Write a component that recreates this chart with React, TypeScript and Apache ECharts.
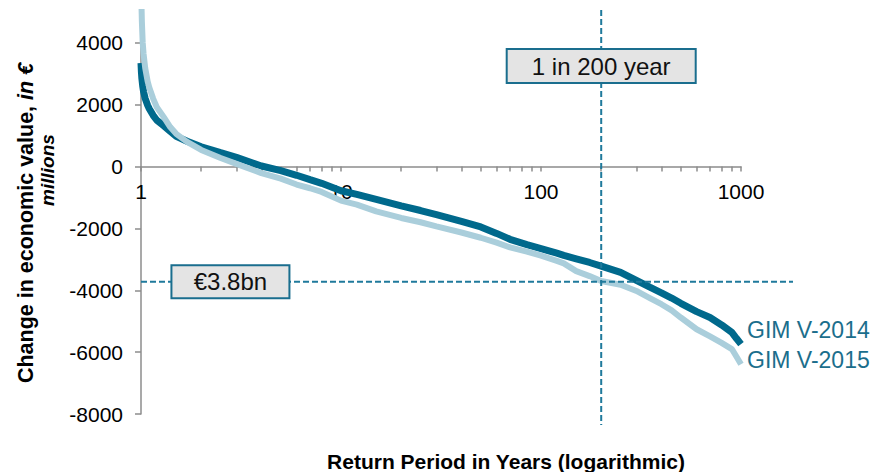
import React, { useEffect, useRef } from 'react';
import * as echarts from 'echarts';

// Return period in years (x, logarithmic)
const returnPeriods = [
  1, 1.005, 1.01, 1.02, 1.03, 1.05, 1.08, 1.1, 1.15, 1.2,
  1.3, 1.4, 1.5, 1.7, 2, 2.5, 3, 4, 5, 6,
  7, 8, 10, 12, 15, 20, 25, 30, 40, 50,
  60, 70, 85, 100, 120, 130, 150, 175, 200, 250,
  300, 350, 400, 450, 500, 600, 700, 800, 900, 950,
  1000,
];

// Change in economic value, € millions
const gimV2014 = [
  3350, 3050, 2850, 2600, 2420, 2200, 1980, 1870, 1660, 1500,
  1320, 1140, 980, 820, 640, 450, 300, 20, -130, -280,
  -420, -540, -780, -900, -1060, -1270, -1420, -1550, -1770, -1950,
  -2160, -2350, -2520, -2650, -2800, -2870, -2980, -3100, -3220, -3420,
  -3680, -3900, -4080, -4250, -4420, -4690, -4880, -5120, -5360, -5560,
  -5740,
];

const gimV2015 = [
  6500, 5300, 4700, 4000, 3650, 3180, 2750, 2560, 2200, 1920,
  1600, 1280, 1060, 800, 540, 280, 90, -210, -390, -580,
  -700, -820, -1100, -1230, -1450, -1660, -1800, -1930, -2130, -2300,
  -2460, -2610, -2750, -2880, -3050, -3130, -3380, -3540, -3700, -3820,
  -4020, -4250, -4450, -4650, -4880, -5260, -5490, -5700, -5900, -6150,
  -6390,
];

const seriesNames = ['GIM V-2014', 'GIM V-2015'];
const yTicks = [-8000, -6000, -4000, -2000, 0, 2000, 4000];
const yMin = -8000;
const yMax = 5000;
const xMajorTicks = [1, 10, 100, 1000];
const xMinorTicks = [
  2, 3, 4, 5, 6, 7, 8, 9,
  20, 30, 40, 50, 60, 70, 80, 90,
  200, 300, 400, 500, 600, 700, 800, 900,
];

const returnPeriodMark = 200;
const returnPeriodText = '1 in 200 year';
const returnPeriodTextLevel = 3250;
const lossMark = -3720;
const lossText = '€3.8bn';
const lossTextPeriod = 2.8;

const xTitle = 'Return Period in Years (logarithmic)';
const yTitleMain = 'Change in economic value, ';
const yTitleItalic = 'in €';
const yTitleLine2 = 'millions';

const FONT = '"Liberation Sans", Arial, Helvetica, sans-serif';
const DARK = '#00698c';
const LIGHT = '#aacedb';
const ACCENT = '#1f7a9c';
const LABEL_TEAL = '#1b6e8c';
const AXIS_GREY = '#8c8c8c';

const toLog = (t: number) => Math.log10(t);

export default function App() {
  const ref = useRef<HTMLDivElement>(null);

  useEffect(() => {
    if (!ref.current) return;
    const chart = echarts.init(ref.current, null, { renderer: 'svg' });

    const tickValues = [...xMajorTicks, ...xMinorTicks].map(toLog);
    const d2014 = returnPeriods.map((t, i) => [toLog(t), gimV2014[i]]);
    const d2015 = returnPeriods.map((t, i) => [toLog(t), gimV2015[i]]);

    const axisLineStyle = { color: AXIS_GREY, width: 1.5 };

    chart.setOption({
      animation: false,
      grid: { left: 141, right: 138, top: 12, bottom: 58, containLabel: false },
      xAxis: {
        type: 'value',
        min: toLog(xMajorTicks[0]),
        max: toLog(xMajorTicks[xMajorTicks.length - 1]),
        interval: 1,
        offset: 0,
        axisLine: { show: true, onZero: false, lineStyle: axisLineStyle },
        axisTick: { show: true, length: 5, customValues: tickValues, lineStyle: axisLineStyle },
        axisLabel: {
          margin: 14,
          fontSize: 21,
          color: '#000',
          fontFamily: FONT,
          formatter: (v: number) => String(Math.round(Math.pow(10, v))),
        },
        splitLine: { show: false },
      },
      yAxis: {
        type: 'value',
        min: yMin,
        max: yMax,
        axisLine: { show: true, lineStyle: axisLineStyle },
        axisTick: { show: true, length: 6, customValues: yTicks, lineStyle: axisLineStyle },
        axisLabel: {
          customValues: yTicks,
          margin: 18,
          fontSize: 21,
          color: '#000',
          fontFamily: FONT,
          formatter: (v: number) => String(v),
        },
        splitLine: { show: false },
      },
      series: [
        {
          name: seriesNames[0],
          type: 'line',
          data: d2014,
          showSymbol: false,
          symbol: 'none',
          lineStyle: { color: DARK, width: 7 },
          z: 2,
        },
        {
          name: seriesNames[1],
          type: 'line',
          data: d2015,
          showSymbol: false,
          symbol: 'none',
          lineStyle: { color: LIGHT, width: 6 },
          z: 3,
        },
      ],
    });

    const px = (x: number, y: number) =>
      chart.convertToPixel({ seriesIndex: 0 }, [x, y]) as number[];

    // Move the x axis (line, ticks and labels) up to the y = 0 level
    const [, zeroY] = px(0, 0);
    const [, bottomY] = px(0, yMin);
    chart.setOption({ xAxis: { offset: zeroY - bottomY } });

    const [vx, vTop] = px(toLog(returnPeriodMark), yMax);
    const [, vBottom] = px(toLog(returnPeriodMark), yMin);
    const [hLeft, hy] = px(toLog(xMajorTicks[0]), lossMark);
    const [hRight] = px(toLog(xMajorTicks[xMajorTicks.length - 1]), lossMark);
    const [, box1Y] = px(toLog(returnPeriodMark), returnPeriodTextLevel);
    const [box2X] = px(toLog(lossTextPeriod), lossMark);
    const last = returnPeriods.length - 1;
    const end2014 = px(toLog(returnPeriods[last]), gimV2014[last]);
    const end2015 = px(toLog(returnPeriods[last]), gimV2015[last]);

    const dash = { stroke: ACCENT, lineWidth: 2, lineDash: [6, 3] };
    const boxStyle = { fill: '#e4e4e4', stroke: '#1a6e8e', lineWidth: 2 };
    const boxText = {
      font: `24px ${FONT}`,
      fill: '#111',
      align: 'center',
      verticalAlign: 'middle',
    };

    chart.setOption({
      graphic: [
        {
          type: 'line',
          z: 10,
          shape: { x1: vx, y1: vTop - 2, x2: vx, y2: vBottom + 11 },
          style: dash,
        },
        {
          type: 'line',
          z: 10,
          shape: { x1: hLeft, y1: hy, x2: hRight + 52, y2: hy },
          style: dash,
        },
        {
          type: 'rect',
          z: 20,
          shape: { x: vx - 94.5, y: box1Y - 17, width: 189, height: 34 },
          style: boxStyle,
        },
        {
          type: 'text',
          z: 21,
          x: vx,
          y: box1Y,
          style: { ...boxText, text: returnPeriodText },
        },
        {
          type: 'rect',
          z: 20,
          shape: { x: box2X - 59, y: hy - 16.5, width: 118, height: 33 },
          style: boxStyle,
        },
        {
          type: 'text',
          z: 21,
          x: box2X,
          y: hy,
          style: { ...boxText, text: lossText },
        },
        {
          type: 'text',
          z: 21,
          x: end2014[0] + 6,
          y: end2014[1] - 14,
          style: {
            text: seriesNames[0],
            font: `23px ${FONT}`,
            fill: LABEL_TEAL,
            align: 'left',
            verticalAlign: 'middle',
          },
        },
        {
          type: 'text',
          z: 21,
          x: end2015[0] + 6,
          y: end2015[1] - 4,
          style: {
            text: seriesNames[1],
            font: `23px ${FONT}`,
            fill: LABEL_TEAL,
            align: 'left',
            verticalAlign: 'middle',
          },
        },
        {
          type: 'text',
          z: 21,
          x: 506,
          y: 461,
          style: {
            text: xTitle,
            font: `bold 21px ${FONT}`,
            fill: '#000',
            align: 'center',
            verticalAlign: 'middle',
          },
        },
        {
          type: 'text',
          z: 21,
          x: 26,
          y: 223,
          rotation: Math.PI / 2,
          style: {
            text: `{b|${yTitleMain}}{bi|${yTitleItalic}}`,
            align: 'center',
            verticalAlign: 'middle',
            rich: {
              b: { fontSize: 21.5, fontWeight: 'bold', fontFamily: FONT, fill: '#000' },
              bi: { fontSize: 21.5, fontWeight: 'bold', fontStyle: 'italic', fontFamily: FONT, fill: '#000' },
            },
          },
        },
        {
          type: 'text',
          z: 21,
          x: 47,
          y: 170,
          rotation: Math.PI / 2,
          style: {
            text: yTitleLine2,
            font: `italic bold 19px ${FONT}`,
            fill: '#000',
            align: 'center',
            verticalAlign: 'middle',
          },
        },
      ],
    });

    return () => {
      chart.dispose();
    };
  }, []);

  return (
    <div
      ref={ref}
      style={{ position: 'absolute', left: 0, top: 0, width: 879, height: 472 }}
    />
  );
}
